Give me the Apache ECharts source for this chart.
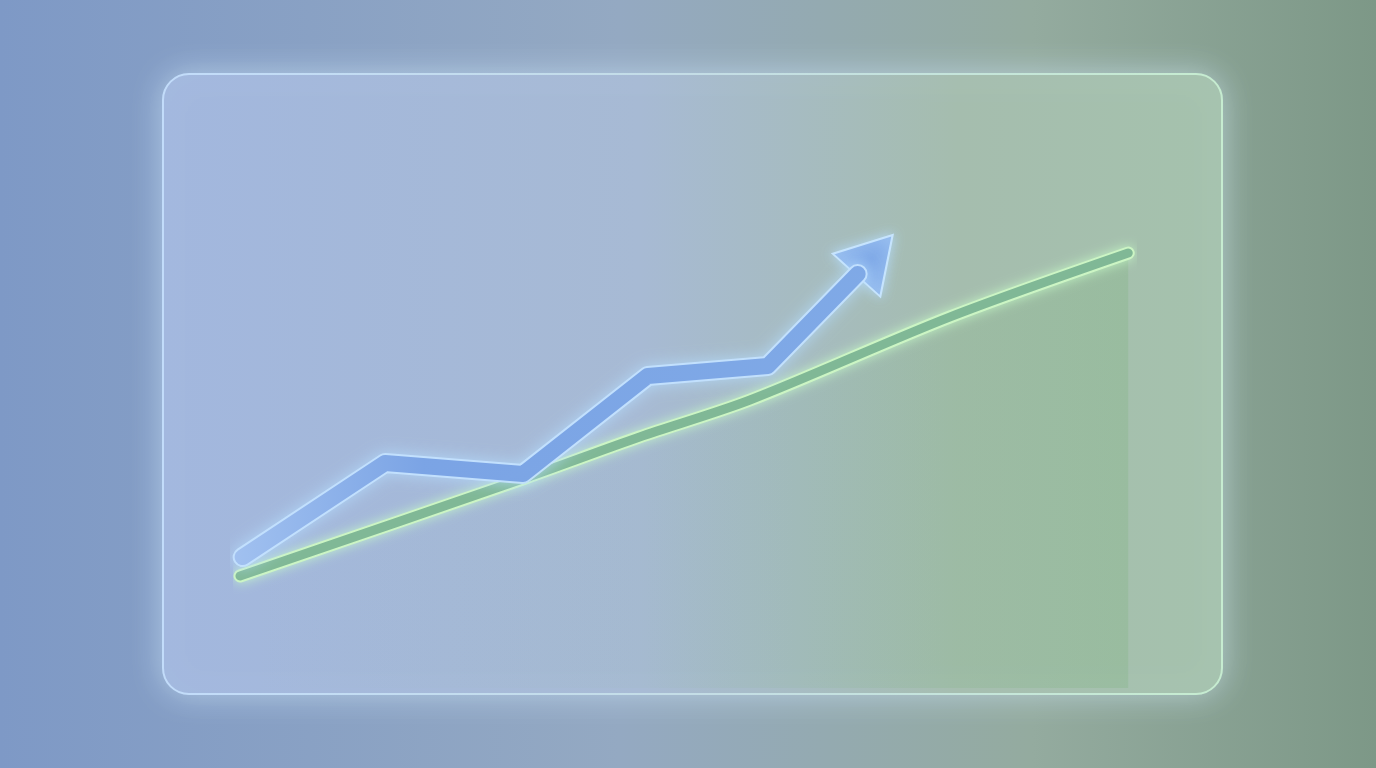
<!DOCTYPE html>
<html>
<head>
<meta charset="utf-8">
<style>
html, body { margin: 0; padding: 0; width: 100%; height: 100%; overflow: hidden; }
#chart { width: 1376px; height: 768px; }
</style>
<script src="https://cdn.jsdelivr.net/npm/echarts@6/dist/echarts.min.js"></script>
</head>
<body>
<div id="chart"></div>
<script>
// trend values (x and y on a 0-100 scale)
var blueX = [0.3, 16.3, 31.8, 45.8, 59.3, 69.4];
var blueY = [24.5, 46.9, 44.3, 67.6, 70.0, 91.9];
var arrowTip = [71.3, 96.4];

var greenX = [0, 31.5, 44.9, 57.3, 79.8, 99.8];
var greenY = [20.0, 42.9, 53.1, 61.9, 81.7, 96.9];

function pairs(xs, ys) {
    var out = [];
    for (var i = 0; i < xs.length; i++) out.push([xs[i], ys[i]]);
    return out;
}

var chart = echarts.init(document.getElementById('chart'));

var option = {
    animation: false,
    backgroundColor: {
        type: 'linear', x: 0, y: 0, x2: 1, y2: 0,
        colorStops: [
            { offset: 0, color: '#7e99c6' },
            { offset: 0.45, color: '#94a9c2' },
            { offset: 0.75, color: '#94ab9f' },
            { offset: 1, color: '#7d9887' }
        ]
    },
    graphic: [{
        type: 'rect',
        z: -1,
        shape: { x: 163, y: 74, width: 1059, height: 620, r: 26 },
        style: {
            fill: {
                type: 'linear', x: 0, y: 0, x2: 1, y2: 0,
                colorStops: [
                    { offset: 0, color: '#a2b7de' },
                    { offset: 0.45, color: '#a7bad4' },
                    { offset: 0.75, color: '#a5bdae' },
                    { offset: 1, color: '#a5c2ad' }
                ]
            },
            stroke: {
                type: 'linear', x: 0, y: 0, x2: 1, y2: 0,
                colorStops: [
                    { offset: 0, color: '#c2dcfa' },
                    { offset: 0.5, color: '#c4dde6' },
                    { offset: 1, color: '#c6ecd0' }
                ]
            },
            lineWidth: 2,
            shadowBlur: 30,
            shadowColor: 'rgba(210,235,255,0.55)'
        }
    }],
    grid: { left: 240, right: 246, top: 240, bottom: 80 },
    xAxis: {
        type: 'value', min: 0, max: 100,
        axisLine: { show: false }, axisTick: { show: false },
        axisLabel: { show: false }, splitLine: { show: false }
    },
    yAxis: {
        type: 'value', min: -6.67, max: 100,
        axisLine: { show: false }, axisTick: { show: false },
        axisLabel: { show: false }, splitLine: { show: false }
    },
    series: [
        // green outline + area
        {
            type: 'line',
            data: pairs(greenX, greenY),
            smooth: 0.3,
            symbol: 'none',
            lineStyle: {
                width: 13, color: '#ccf5c4', cap: 'round', join: 'round',
                shadowBlur: 12, shadowColor: 'rgba(200,255,200,0.8)'
            },
            areaStyle: {
                origin: 'start',
                color: {
                    type: 'linear', x: 0, y: 0, x2: 1, y2: 0,
                    colorStops: [
                        { offset: 0, color: 'rgba(120,180,120,0)' },
                        { offset: 0.45, color: 'rgba(120,180,120,0.06)' },
                        { offset: 1, color: 'rgba(115,175,115,0.34)' }
                    ]
                }
            }
        },
        {
            type: 'line',
            data: pairs(greenX, greenY),
            smooth: 0.3,
            symbol: 'none',
            lineStyle: { width: 9, color: '#80b896', cap: 'round', join: 'round' }
        },
        // blue trend with arrow
        {
            type: 'line',
            data: pairs(blueX, blueY),
            symbol: 'none',
            lineStyle: {
                width: 20, color: '#c4e2ff', cap: 'round', join: 'round', opacity: 0.9,
                shadowBlur: 16, shadowColor: 'rgba(180,220,255,0.9)'
            }
        },
        {
            type: 'line',
            data: pairs(blueX, blueY),
            symbol: 'none',
            lineStyle: {
                width: 16, cap: 'round', join: 'round', opacity: 0.9,
                color: {
                    type: 'linear', x: 0, y: 0, x2: 1, y2: 0,
                    colorStops: [
                        { offset: 0, color: '#9dbdee' },
                        { offset: 0.3, color: '#739de2' },
                        { offset: 1, color: '#78a3e4' }
                    ]
                }
            }
        },
        {
            type: 'scatter',
            data: [arrowTip],
            symbol: 'triangle',
            symbolSize: [64, 54],
            symbolRotate: -42,
            itemStyle: {
                color: {
                    type: 'radial', x: 0.5, y: 0.6, r: 0.7,
                    colorStops: [
                        { offset: 0, color: '#7ca6e6' },
                        { offset: 1, color: '#93b9ee' }
                    ]
                },
                borderColor: '#c8e6ff',
                borderWidth: 2,
                shadowBlur: 12,
                shadowColor: 'rgba(180,220,255,0.9)',
                opacity: 0.95
            }
        }
    ]
};

chart.setOption(option);
</script>
</body>
</html>
